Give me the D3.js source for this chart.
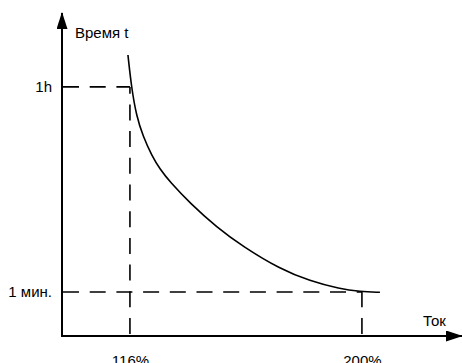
<!DOCTYPE html>
<html>
<head>
<meta charset="utf-8">
<script src="https://cdn.jsdelivr.net/npm/d3@7"></script>
<style>
  body { margin: 0; background: #fff; }
  svg text { font-family: "Liberation Sans", Arial, sans-serif; fill: #000; }
</style>
</head>
<body>
<div id="chart"></div>
<script>
// current in % of rated, time in arbitrary linear units
const xTicks = [116, 200];
const xTickLabels = ['116%', '200%'];
const yTicks = [77.6, 13.7];
const yTickLabels = ['1h', '1 мин.'];
const curveX = [115.28, 116.54, 118.35, 120.71, 123.97, 126.86, 130.48, 137.72, 147.50, 156.91, 170.31, 181.17, 192.03, 199.28, 206.52];
const curveY = [87.54, 77.57, 68.54, 62.31, 56.07, 52.02, 47.98, 41.43, 33.80, 27.88, 20.87, 17.13, 14.64, 13.86, 13.61];

function createChart() {
    const width = 462, height = 363;
    const svg = d3.select('#chart').append('svg')
        .attr('width', width)
        .attr('height', height);

    const x = d3.scaleLinear().domain([91.4, 233.7]).range([62, 455]);
    const y = d3.scaleLinear().domain([0, 100]).range([336, 15]);

    svg.append('defs').append('marker')
        .attr('id', 'arrow')
        .attr('viewBox', '0 0 17 11')
        .attr('refX', 16)
        .attr('refY', 5.5)
        .attr('markerWidth', 17)
        .attr('markerHeight', 11)
        .attr('markerUnits', 'userSpaceOnUse')
        .attr('orient', 'auto')
        .append('path')
        .attr('d', 'M0,0L17,5.5L0,11Z')
        .attr('fill', '#000');

    // dashed guide lines: 116% <-> 1h, 200% <-> 1 мин.
    const guides = svg.append('g')
        .attr('stroke', '#000')
        .attr('stroke-width', 1.6)
        .attr('stroke-dasharray', '16,10.7')
        .attr('fill', 'none');

    xTicks.forEach((v, i) => {
        guides.append('line')
            .attr('x1', x.range()[0] + 1).attr('x2', x(v))
            .attr('y1', y(yTicks[i])).attr('y2', y(yTicks[i]));
        guides.append('line')
            .attr('x1', x(v)).attr('x2', x(v))
            .attr('y1', y(0) - 2).attr('y2', y(yTicks[i]));
    });

    // curve
    const pts = curveX.map((d, i) => [d, curveY[i]]);
    svg.append('path')
        .datum(pts)
        .attr('fill', 'none')
        .attr('stroke', '#000')
        .attr('stroke-width', 1.6)
        .attr('d', d3.line().x(d => x(d[0])).y(d => y(d[1])).curve(d3.curveBasis));

    // axes with arrows
    svg.append('line')
        .attr('x1', x.range()[0] - 1).attr('y1', y(0))
        .attr('x2', 462).attr('y2', y(0))
        .attr('stroke', '#000').attr('stroke-width', 2)
        .attr('marker-end', 'url(#arrow)');
    svg.append('line')
        .attr('x1', x.range()[0]).attr('y1', y(0) + 1)
        .attr('x2', x.range()[0]).attr('y2', 13)
        .attr('stroke', '#000').attr('stroke-width', 2)
        .attr('marker-end', 'url(#arrow)');

    // tick labels
    const xAxis = svg.append('g')
        .attr('transform', `translate(0,${y(0)})`)
        .call(d3.axisBottom(x).tickValues(xTicks).tickSize(0).tickPadding(19.5)
            .tickFormat((d, i) => xTickLabels[i]));
    const yAxis = svg.append('g')
        .attr('transform', `translate(${x.range()[0]},0)`)
        .call(d3.axisLeft(y).tickValues(yTicks).tickSize(0).tickPadding(10)
            .tickFormat((d, i) => yTickLabels[i]));
    [xAxis, yAxis].forEach(a => {
        a.select('.domain').remove();
        a.selectAll('text').attr('font-size', 15).attr('font-family', '"Liberation Sans", Arial, sans-serif');
    });

    // axis titles
    svg.append('text')
        .attr('x', 75).attr('y', 38)
        .attr('font-size', 15)
        .text('Время t');
    svg.append('text')
        .attr('x', 423).attr('y', 326)
        .attr('font-size', 15)
        .text('Ток');
}

createChart();
</script>
</body>
</html>
